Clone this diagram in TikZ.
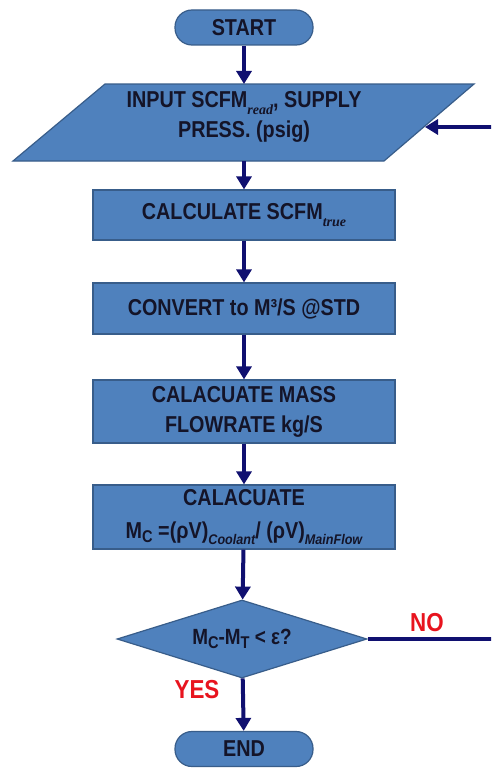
\documentclass[tikz,border=0pt]{standalone}
\usepackage{fontspec}
\setmainfont{Liberation Sans}[FakeStretch=0.86]
\newfontfamily\subsans{Liberation Sans}[FakeStretch=0.9]
\newfontfamily\subserif{Liberation Serif}
\usetikzlibrary{arrows.meta,shapes.geometric}
\definecolor{boxfill}{HTML}{4F81BD}
\definecolor{boxline}{HTML}{385D8A}
\definecolor{navy}{RGB}{16,16,112}
\definecolor{txt}{HTML}{141428}
\definecolor{lblred}{RGB}{232,20,30}
\newcommand\sbsr[1]{\raisebox{-0.28em}{\fontsize{14}{14}\selectfont\subserif\bfseries\itshape #1}}
\newcommand\sbss[1]{\raisebox{-0.28em}{\fontsize{14}{14}\selectfont\subsans\bfseries\itshape #1}}
\newcommand\sbsc[1]{\raisebox{-0.2em}{\fontsize{17}{17}\selectfont #1}}
\begin{document}
\begin{tikzpicture}[x=1pt,y=-1pt,
  shapestyle/.style={draw=boxline, line width=1.2pt, fill=boxfill},
  box/.style={shapestyle, text=txt, font=\fontsize{23}{30}\selectfont\bfseries, align=center, inner sep=0pt},
  procbox/.style={box, rectangle, minimum width=302pt},
  term/.style={box, rectangle, rounded corners=17pt, minimum width=138pt, minimum height=35pt},
  txtonly/.style={text=txt, font=\fontsize{23}{30}\selectfont\bfseries, align=center, inner sep=0pt},
  flow/.style={draw=navy, line width=4pt, -{Triangle[width=15pt,length=13pt]}},
  lbl/.style={text=lblred, font=\fontsize{26}{26}\selectfont\bfseries}]
\useasboundingbox (0,0) rectangle (491,768);
\clip (0,0) rectangle (491,768);
\fill[white] (0,0) rectangle (491,768);

\node[term] (start) at (244,27.5) {START};

\path[shapestyle] (13,161) -- (105,84) -- (474,84) -- (384,161) -- cycle;
\node[txtonly] (in) at (244,117) {INPUT SCFM\sbsr{read}, SUPPLY\\PRESS. (psig)};
\coordinate (inT) at (244,84);
\coordinate (inB) at (244,161);
\coordinate (inR) at (425,127);

\node[procbox, minimum height=50pt] (b1) at (244,215) {CALCULATE SCFM\sbsr{true}};
\node[procbox, minimum height=51pt] (b2) at (244,308.5) {CONVERT to M³/S @STD};
\node[procbox, minimum height=63pt] (b3) at (244,411.5) {CALACUATE MASS\\FLOWRATE kg/S};
\node[procbox, minimum height=64pt] (b4) at (244,517) {CALACUATE\\[3pt]M\sbsc{C} =(ρV)\sbss{Coolant}/ (ρV)\sbss{MainFlow}};
\node[diamond, box, minimum width=250pt, minimum height=78pt, aspect=3.2, font=\fontsize{22}{22}\selectfont\bfseries] (dec) at (242,639) {M\sbsc{C}-M\sbsc{T} < ε?};
\node[term] (end) at (244,749) {END};

\coordinate (cR) at (497,639);
\coordinate (cT) at (497,127);

\draw[flow] (start) -- (inT);
\draw[flow] (inB) -- (b1);
\draw[flow] (b1) -- (b2);
\draw[flow] (b2) -- (b3);
\draw[flow] (b3) -- (b4);
\draw[flow] (b4) -- (dec);
\draw[flow] (dec) -- (end);
\draw[flow] (dec.east) -- (cR) -- (cT) -- (inR);

\node[lbl] (no) at (427,623) {NO};
\node[lbl] (yes) at (197,690) {YES};
\end{tikzpicture}
\end{document}
